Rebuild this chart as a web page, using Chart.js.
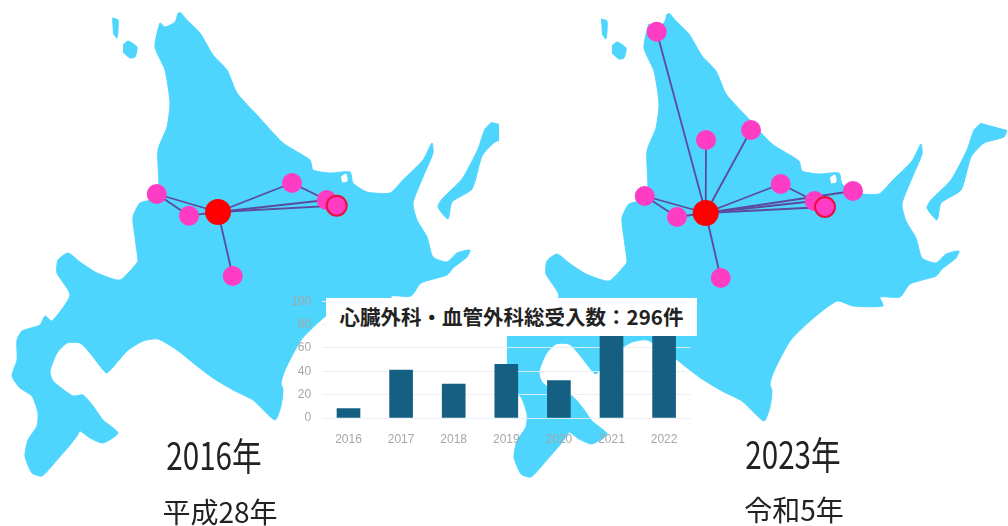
<!DOCTYPE html>
<html lang="ja">

<head>
  <meta charset="UTF-8">
  <title>心臓外科・血管外科</title>
  <script src="https://cdn.jsdelivr.net/npm/chart.js"></script>
  <style>
    html, body { margin: 0; padding: 0; background: #fff; }
    body { position: relative; width: 1008px; height: 526px; overflow: hidden; filter: blur(0.5px); }
    canvas { position: absolute; }
    #mapLeft { left: 0; top: 0; }
    #mapRight { left: 507px; top: 0; }
    #barChart { left: 280px; top: 283px; }
    .label {
      position: absolute;
      white-space: nowrap;
      color: #222;
      font-family: "Noto Sans CJK JP", sans-serif;
      line-height: 1;
    }
    .year { font-size: 38px; transform: translateX(-50%) scaleX(0.78); }
    .era { font-size: 28px; transform: translateX(-50%); }
    #titleBox {
      position: absolute;
      left: 326px;
      top: 298px;
      width: 371px;
      height: 38px;
      background: #fff;
      color: #222;
      font: bold 20.5px "Noto Sans CJK JP", sans-serif;
      line-height: 37px;
      text-align: center;
      white-space: nowrap;
    }
  </style>
</head>

<body>

  <canvas id="mapLeft" width="499" height="526"></canvas>
  <canvas id="mapRight" width="501" height="526"></canvas>
  <canvas id="barChart" width="420" height="172"></canvas>

  <div id="titleBox">心臓外科・血管外科総受入数：296件</div>
  <div class="label year" style="left:214px;top:435px">2016年</div>
  <div class="label era" style="left:220px;top:497px">平成28年</div>
  <div class="label year" style="left:793px;top:434px">2023年</div>
  <div class="label era" style="left:794px;top:495px">令和5年</div>

  <script>
    // Bar chart values
    const years = ['2016', '2017', '2018', '2019', '2020', '2021', '2022'];
    const cases = [8, 41, 29, 46, 32, 70, 70];

    // Map outline
    const landX = [180, 187, 200, 213, 227, 237, 257, 283, 310, 313, 330, 350, 353, 367, 390, 403, 423, 432, 433, 423, 413, 417, 427, 433, 447, 457, 470, 467, 453, 447, 421, 411, 391, 394, 364, 348, 321, 301, 285, 281, 283, 281, 275, 253, 233, 213, 197, 177, 158, 143, 127, 107, 100, 90, 80, 67, 57, 50, 53, 73, 83, 93, 103, 118, 103, 90, 80, 77, 70, 57, 42, 32, 25, 28, 37, 38, 32, 20, 12, 17, 17, 22, 40, 45, 52, 70, 57, 58, 68, 80, 97, 120, 137, 138, 135, 133, 140, 158, 158, 167, 170, 165, 155, 160, 165, 175, 178];
    const landY = [12, 20, 33, 55, 70, 93, 115, 143, 160, 170, 173, 172, 183, 192, 193, 180, 160, 143, 153, 177, 203, 220, 237, 257, 262, 253, 250, 257, 268, 275, 283, 296, 296, 305, 305, 300, 320, 340, 370, 383, 390, 406, 420, 400, 390, 378, 366, 350, 339, 341, 351, 373, 366, 353, 343, 343, 353, 371, 381, 396, 395, 406, 420, 433, 443, 438, 431, 436, 445, 460, 476, 473, 456, 440, 426, 413, 396, 388, 376, 360, 340, 331, 325, 316, 321, 295, 273, 260, 253, 262, 273, 280, 263, 260, 237, 217, 203, 197, 150, 127, 103, 70, 47, 23, 27, 22, 13];
    const rebunX = [112, 118, 117, 113];
    const rebunY = [18, 20, 38, 33];
    const rishiriX = [123, 128, 137, 135, 130, 123];
    const rishiriY = [45, 41, 47, 57, 58, 52];
    const kunashiriX = [492, 485, 478, 462, 442, 438, 448, 452, 472, 482, 495, 515, 518];
    const kunashiriY = [122, 129, 149, 179, 199, 207, 219, 202, 189, 156, 142, 136, 129];
    const lakeX = [341, 346, 347, 342];
    const lakeY = [177, 174, 181, 182];
    const notsukeX = [424, 433, 435, 425];
    const notsukeY = [227, 230, 234, 230];

    // Hospitals. First point of each list is the hub
    const sitesX2016 = [218, 156.7, 189, 292, 326.7, 232.7];
    const sitesY2016 = [212, 194, 215.7, 183, 200, 276];
    const ringX2016 = 336.7;
    const ringY2016 = 205.7;
    const sitesX2023 = [216.7, 167.7, 217, 262, 155.7, 188, 291.7, 325.7, 364, 231.7];
    const sitesY2023 = [212, 30.7, 139, 129, 195, 216, 183, 200, 190, 277];
    const ringX2023 = 336;
    const ringY2023 = 206;

    const LAND = '#4dd5fe';
    const PINK = '#ff3cc4';
    const LINK = '#5c4a9c';
    const RED = '#ff0000';

    function toPoints(xs, ys) {
      return xs.map((x, i) => ({ x: x, y: ys[i] }));
    }

    function shape(xs, ys, color, order) {
      return {
        data: toPoints(xs, ys),
        showLine: true,
        fill: 'shape',
        tension: 0.2,
        pointRadius: 0,
        borderWidth: 1,
        borderColor: color,
        backgroundColor: color,
        order: order,
      };
    }

    function link(a, b) {
      return {
        data: [a, b],
        showLine: true,
        tension: 0,
        pointRadius: 0,
        borderWidth: 1.8,
        borderColor: LINK,
        order: 3,
      };
    }

    function drawMap(id, xs, ys, ringX, ringY, extraLinks, xMin, xMax, yMin, yMax) {
      const pts = toPoints(xs, ys);
      const hub = pts[0];
      const ring = { x: ringX, y: ringY };
      const links = pts.slice(1).map(p => link(hub, p));
      links.push(link(hub, ring));
      extraLinks.forEach(pair => links.push(link(pts[pair[0]], pts[pair[1]])));

      new Chart(document.getElementById(id), {
        type: 'scatter',
        data: {
          datasets: [
            shape(landX, landY, LAND, 6),
            shape(rebunX, rebunY, LAND, 6),
            shape(rishiriX, rishiriY, LAND, 6),
            shape(kunashiriX, kunashiriY, LAND, 6),
            shape(lakeX, lakeY, '#ffffff', 5),
            shape(notsukeX, notsukeY, '#ffffff', 5),
            ...links,
            { data: pts.slice(1), pointRadius: 10, pointBackgroundColor: PINK, pointBorderWidth: 0, order: 2 },
            { data: [ring], pointRadius: 10, pointBackgroundColor: PINK, pointBorderColor: '#e8103c', pointBorderWidth: 2, order: 1 },
            { data: [hub], pointRadius: 13, pointBackgroundColor: RED, pointBorderWidth: 0, order: 1 },
          ]
        },
        options: {
          responsive: false,
          animation: false,
          layout: { padding: 0, autoPadding: false },
          plugins: { legend: { display: false }, tooltip: { enabled: false } },
          scales: {
            x: { display: false, min: xMin, max: xMax },
            y: { display: false, min: yMin, max: yMax, reverse: true },
          }
        }
      });
    }

    // 2016: site 1-2 and site 3-4 are also joined
    drawMap('mapLeft', sitesX2016, sitesY2016, ringX2016, ringY2016, [[1, 2], [3, 4]], 0, 499, 0, 526);
    // 2023: same map, further right and 1px lower
    drawMap('mapRight', sitesX2023, sitesY2023, ringX2023, ringY2023, [[4, 5], [6, 7]], 18, 519, -1, 525);

    new Chart(document.getElementById('barChart'), {
      type: 'bar',
      data: {
        labels: years,
        datasets: [{ data: cases, backgroundColor: '#156082', barThickness: 23 }]
      },
      options: {
        responsive: false,
        animation: false,
        layout: { padding: { top: 11, right: 9.6, left: 0, bottom: 0 }, autoPadding: false },
        plugins: { legend: { display: false }, tooltip: { enabled: false } },
        scales: {
          x: {
            grid: { display: false },
            border: { display: false },
            ticks: { color: '#a6a6a6', font: { family: 'Liberation Sans', size: 12 }, padding: 6, maxRotation: 0 },
            afterFit(scale) { scale.height = 37; },
          },
          y: {
            min: 0,
            max: 100,
            grid: { color: 'rgba(232,238,242,0.9)', drawTicks: false },
            border: { display: false },
            ticks: { stepSize: 20, color: '#a6a6a6', font: { family: 'Liberation Sans', size: 12 }, padding: 11 },
            afterFit(scale) { scale.width = 42.2; },
          }
        }
      }
    });
  </script>

</body>

</html>
